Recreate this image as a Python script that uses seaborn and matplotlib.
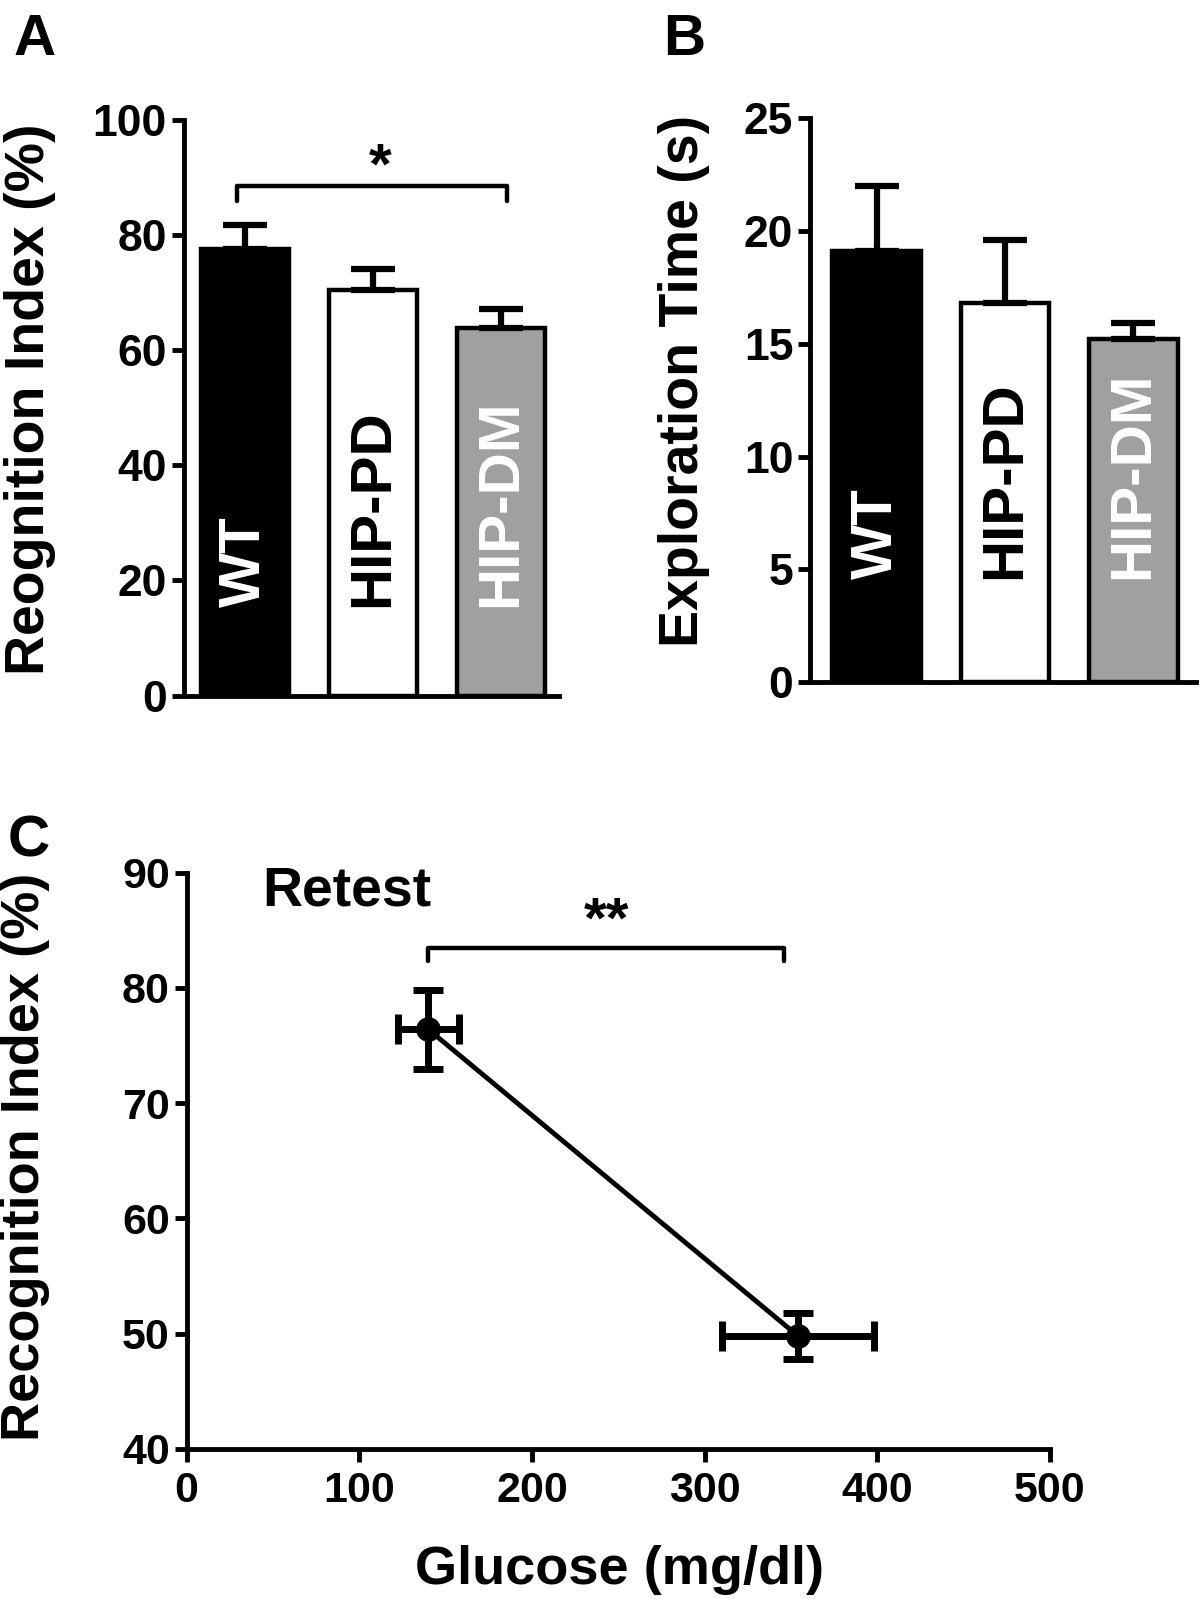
import numpy as np
import pandas as pd
import matplotlib
matplotlib.use("Agg")
import matplotlib.pyplot as plt
import seaborn as sns

# 数据
groups = ["WT", "HIP-PD", "HIP-DM"]
bar_colors = ["#000000", "#ffffff", "#a0a0a0"]
label_colors = ["white", "black", "white"]

ri_mean = [77.5, 70.4, 63.8]
ri_sem = [4.3, 3.7, 3.4]

expl_mean = [19.1, 16.8, 15.2]
expl_sem = [2.9, 2.8, 0.7]

glucose_mean = [140, 354]
glucose_sem = [17.5, 44]
retest_ri = [76.4, 49.8]
retest_sem = [3.4, 2.0]

sns.set_style("ticks")
plt.rcParams["font.family"] = ["Liberation Sans", "DejaVu Sans"]
plt.rcParams["font.weight"] = "bold"
plt.rcParams["axes.linewidth"] = 3.5
for key in ["text.color", "axes.labelcolor", "xtick.color", "ytick.color", "axes.edgecolor"]:
    plt.rcParams[key] = "black"

fig = plt.figure(figsize=(12, 15.99), dpi=100)
axA = fig.add_axes([0.153, 0.565, 0.313, 0.36])
axB = fig.add_axes([0.675, 0.5735, 0.322, 0.3525])
axC = fig.add_axes([0.1555, 0.094, 0.7195, 0.3602])


def style_axis(ax, size=32):
    sns.despine(ax=ax)
    for side in ["left", "bottom"]:
        ax.spines[side].set_linewidth(3.5)
    ax.tick_params(axis="both", length=9, width=3.5, labelsize=size, pad=3)
    for lab in ax.get_xticklabels() + ax.get_yticklabels():
        lab.set_fontweight("bold")


def bar_panel(ax, values, errs, ylim, yticks, ylabel, lab_y, xlim, ylab_pos):
    df = pd.DataFrame({"group": groups, "value": values})
    sns.barplot(data=df, x="group", y="value", hue="group", palette=bar_colors,
                legend=False, edgecolor="black", linewidth=3.2, width=0.69,
                errorbar=None, ax=ax)
    ax.errorbar(range(len(values)), values, yerr=[np.zeros(len(errs)), errs],
                fmt="none", ecolor="black", elinewidth=4.5, capsize=16, capthick=4.5,
                zorder=1)
    ax.set_ylim(*ylim)
    ax.set_yticks(yticks)
    ax.set_xlim(*xlim)
    ax.set_xticks([])
    ax.set_xlabel("")
    ax.set_ylabel("")
    ax.text(ylab_pos[0], ylab_pos[1], ylabel, transform=ax.transAxes, rotation=90,
            ha="center", va="center", fontsize=40, fontweight="bold")
    for i, g in enumerate(groups):
        ax.text(i, lab_y, g, transform=ax.get_xaxis_transform(), rotation=90,
                ha="center", va="bottom", fontsize=42, fontweight="bold",
                color=label_colors[i])
    style_axis(ax)


bar_panel(axA, ri_mean, ri_sem, (0, 100), [0, 20, 40, 60, 80, 100],
          "Reognition Index (%)", 0.154, (-0.48, 2.456), (-0.408, 0.515))
axA.plot([-0.06, -0.06, 2.05, 2.05], [86, 88.5, 88.5, 86], color="black", lw=3.2)
axA.text(1.06, 86.8, "*", ha="center", va="bottom", fontsize=42, fontweight="bold")

bar_panel(axB, expl_mean, expl_sem, (0, 25), [0, 5, 10, 15, 20, 25],
          "Exploration Time (s)", 0.183, (-0.52, 2.49), (-0.326, 0.534))

# C
sns.lineplot(x=glucose_mean, y=retest_ri, marker="o", markersize=17, color="black",
             linewidth=3.5, markeredgecolor="black", ax=axC)
axC.errorbar(glucose_mean, retest_ri, xerr=glucose_sem, yerr=retest_sem, fmt="none",
             ecolor="black", elinewidth=5, capsize=11, capthick=5)
axC.set_xlim(0, 500)
axC.set_ylim(40, 90)
axC.set_xticks([0, 100, 200, 300, 400, 500])
axC.set_yticks([40, 50, 60, 70, 80, 90])
axC.plot([140, 140, 346, 346], [82.3, 83.5, 83.5, 82.3], color="black", lw=3.2)
axC.text(243, 83.3, "**", ha="center", va="bottom", fontsize=42, fontweight="bold")
axC.text(44, 88.4, "Retest", ha="left", va="center", fontsize=40, fontweight="bold")
axC.text(-0.1866, 0.506, "Recognition Index (%)", transform=axC.transAxes,
         rotation=90, ha="center", va="center", fontsize=39, fontweight="bold")
axC.text(0.502, -0.21, "Glucose (mg/dl)", transform=axC.transAxes,
         ha="center", va="center", fontsize=39, fontweight="bold")
style_axis(axC, size=31)
axC.tick_params(axis="x", pad=7)

fig.text(0.029, 0.975, "A", ha="center", va="center", fontsize=42, fontweight="bold")
fig.text(0.570, 0.975, "B", ha="center", va="center", fontsize=42, fontweight="bold")
fig.text(0.024, 0.474, "C", ha="center", va="center", fontsize=42, fontweight="bold")

fig.savefig("out.png", dpi=100)
